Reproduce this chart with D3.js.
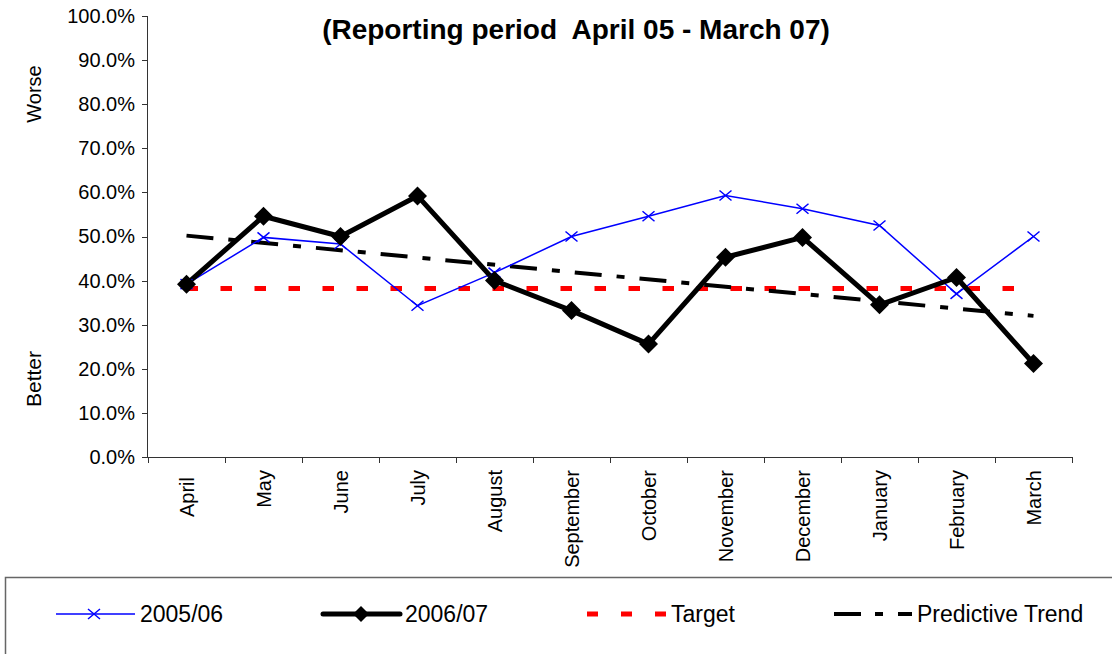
<!DOCTYPE html>
<html>
<head>
<meta charset="utf-8">
<script src="https://cdn.jsdelivr.net/npm/d3@7"></script>
<style>
  body { margin: 0; background: #fff; }
  svg { display: block; font-family: Arial, "Liberation Sans", sans-serif; }
  .axis path, .axis line { stroke: #333; shape-rendering: crispEdges; }
  .axis text { font-size: 20px; fill: #000; }
</style>
</head>
<body>
<div class="chart"></div>
<script>
// chart values
const months = ["April", "May", "June", "July", "August", "September", "October",
                "November", "December", "January", "February", "March"];
const y0506 = [39.2, 49.8, 48.3, 34.3, 41.8, 50.0, 54.6, 59.3, 56.3, 52.5, 37.0, 50.0];
const y0607 = [39.2, 54.6, 50.0, 59.2, 40.0, 33.2, 25.6, 45.3, 49.8, 34.5, 40.7, 21.2];
const target = [38.2, 38.2, 38.2, 38.2, 38.2, 38.2, 38.2, 38.2, 38.2, 38.2, 38.2, 38.2];
const trendMonths = ["April", "March"];
const trendVals = [50.2, 32.0];
const yTicks = [0, 10, 20, 30, 40, 50, 60, 70, 80, 90, 100];
const legendNames = ["2005/06", "2006/07", "Target", "Predictive Trend"];

const W = 1112, H = 654;
const plotL = 148, plotR = 1072, plotT = 16, plotB = 457;

const svg = d3.select(".chart").append("svg")
    .attr("width", W)
    .attr("height", H);

const x = d3.scaleBand().domain(months).range([plotL, plotR]);
const cx = m => x(m) + x.bandwidth() / 2;
const xEdge = d3.scaleLinear().domain([0, months.length]).range([plotL, plotR]);
const y = d3.scaleLinear().domain([0, 100]).range([plotB, plotT]);

// title
svg.append("text")
    .attr("x", 576).attr("y", 39)
    .attr("text-anchor", "middle")
    .style("font-size", "28px").style("font-weight", "bold")
    .style("white-space", "pre")
    .text("(Reporting period  April 05 - March 07)");

// y axis
svg.append("g").attr("class", "axis")
    .attr("transform", "translate(" + (plotL - 1) + ",0)")
    .call(d3.axisLeft(y).tickValues(yTicks).tickSize(5).tickPadding(7)
        .tickFormat(d => d.toFixed(1) + "%"));

// x axis, ticks between categories
svg.append("g").attr("class", "axis")
    .attr("transform", "translate(0," + plotB + ")")
    .call(d3.axisBottom(xEdge).tickValues(d3.range(months.length + 1)).tickSize(6).tickFormat(""));

svg.selectAll(".mlab")
    .data(months)
    .enter().append("text")
    .attr("class", "mlab")
    .attr("transform", d => "translate(" + (cx(d) + 7) + "," + (d == "April" ? 477 : 470) + ") rotate(-90)")
    .attr("text-anchor", "end")
    .style("font-size", "20px")
    .text(d => d);

// Worse / Better
svg.append("text").attr("transform", "translate(41,94) rotate(-90)")
    .attr("text-anchor", "middle").style("font-size", "20px").text("Worse");
svg.append("text").attr("transform", "translate(41,379) rotate(-90)")
    .attr("text-anchor", "middle").style("font-size", "21px").text("Better");

const line = d3.line().x(d => cx(d[0])).y(d => y(d[1]));

// target
svg.append("path")
    .attr("d", line(d3.zip(months, target)))
    .attr("fill", "none").attr("stroke", "#ff0000")
    .attr("stroke-width", 5).attr("stroke-dasharray", "11.5 22.5");

// trend
svg.append("path")
    .attr("d", line(d3.zip(trendMonths, trendVals)))
    .attr("fill", "none").attr("stroke", "#000")
    .attr("stroke-width", 4).attr("stroke-dasharray", "27 15 8 15");

// 2005/06
svg.append("path")
    .attr("d", line(d3.zip(months, y0506)))
    .attr("fill", "none").attr("stroke", "#0000ff").attr("stroke-width", 1.5);

const cross = (g, px, py) => g.append("path")
    .attr("d", "M" + (px - 6) + "," + (py - 5) + "L" + (px + 6) + "," + (py + 5) +
               "M" + (px - 6) + "," + (py + 5) + "L" + (px + 6) + "," + (py - 5))
    .attr("stroke", "#0000ff").attr("stroke-width", 1.5).attr("fill", "none");

// 2006/07
svg.append("path")
    .attr("d", line(d3.zip(months, y0607)))
    .attr("fill", "none").attr("stroke", "#000").attr("stroke-width", 5)
    .attr("stroke-linejoin", "round");

const diamond = (g, px, py, r) => g.append("path")
    .attr("d", "M" + px + "," + (py - r) + "L" + (px + r) + "," + py +
               "L" + px + "," + (py + r) + "L" + (px - r) + "," + py + "Z")
    .attr("fill", "#000");

y0506.forEach((v, i) => cross(svg, cx(months[i]), y(v)));
y0607.forEach((v, i) => diamond(svg, cx(months[i]), y(v), 9.5));

// legend
svg.append("rect")
    .attr("x", 5.5).attr("y", 577.5).attr("width", 1130).attr("height", 120)
    .attr("fill", "none").attr("stroke", "#666").attr("stroke-width", 1.5);

const ly = 614;
const lg = svg.append("g");
lg.append("line").attr("x1", 56).attr("x2", 135).attr("y1", ly).attr("y2", ly)
    .attr("stroke", "#0000ff").attr("stroke-width", 1.5);
cross(lg, 94, ly);
lg.append("line").attr("x1", 323).attr("x2", 400).attr("y1", ly).attr("y2", ly)
    .attr("stroke", "#000").attr("stroke-width", 5).attr("stroke-linecap", "round");
diamond(lg, 361, ly, 8);
lg.append("line").attr("x1", 587).attr("x2", 666).attr("y1", ly).attr("y2", ly)
    .attr("stroke", "#ff0000").attr("stroke-width", 5).attr("stroke-dasharray", "11 23");
lg.append("line").attr("x1", 834).attr("x2", 912).attr("y1", ly).attr("y2", ly)
    .attr("stroke", "#000").attr("stroke-width", 4).attr("stroke-dasharray", "27 14 8 15");

const lx = [140, 405, 671, 917];
lg.selectAll(".ltxt").data(legendNames).enter().append("text")
    .attr("class", "ltxt")
    .attr("x", (d, i) => lx[i]).attr("y", ly + 8)
    .style("font-size", "23px")
    .text(d => d);
</script>
</body>
</html>
